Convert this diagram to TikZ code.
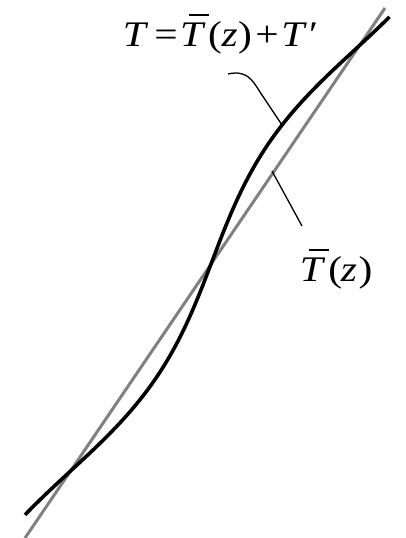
\documentclass[tikz,border=0pt]{standalone}
\usepackage{fontspec}
\setmainfont{Liberation Serif}
\newcommand\TbarGlyph{\rlap{\kern7.8pt\rule[30pt]{17.4pt}{1.8pt}}\textit{T}}
\begin{document}
\begin{tikzpicture}[x=1pt,y=-1pt,
  meanline/.style={color=black!50, line width=3pt},
  profile/.style={color=black, line width=3.6pt},
  leader/.style={color=black, line width=1.3pt},
  lbl/.style={inner sep=0pt, anchor=base west, font=\fontsize{36}{40}\selectfont}]
\useasboundingbox (0,0) rectangle (405,538);
% mean profile (straight line)
\coordinate (g0) at (25,538);
\coordinate (g1) at (385,8);
\draw[meanline] (g0) -- (g1);
% total profile
\draw[profile] plot[domain=0.03:0.995, samples=120, smooth]
  ({25+358*\x+0.829*19*sin(180*(\x-0.125)/0.398)},
   {538-530*\x+0.56*19*sin(180*(\x-0.125)/0.398)});
% labels
\node[lbl] (ltot) at (125,46) {\scalebox{1.15}[1]{\kern-2.1pt\textit{T}\kern5.3pt=\kern2.2pt\TbarGlyph\kern2.2pt(\kern-0.4pt\textit{z}\kern0.5pt)\kern3pt+\kern2.2pt\textit{T}\kern2pt′}};
\node[lbl] (lmean) at (302,281) {\scalebox{1.15}[1]{\kern-2.1pt\TbarGlyph\kern2.8pt(\kern-1.2pt\textit{z}\kern1.5pt)}};
% leader lines
\coordinate (a0) at (228,74);
\coordinate (a1) at (260,92);
\coordinate (a2) at (282,125);
\draw[leader] (a0) .. controls (246,70) and (252,79) .. (a1) -- (a2);
\coordinate (b0) at (272,171);
\coordinate (b1) at (302,226);
\draw[leader] (b0) -- (b1);
\end{tikzpicture}
\end{document}
